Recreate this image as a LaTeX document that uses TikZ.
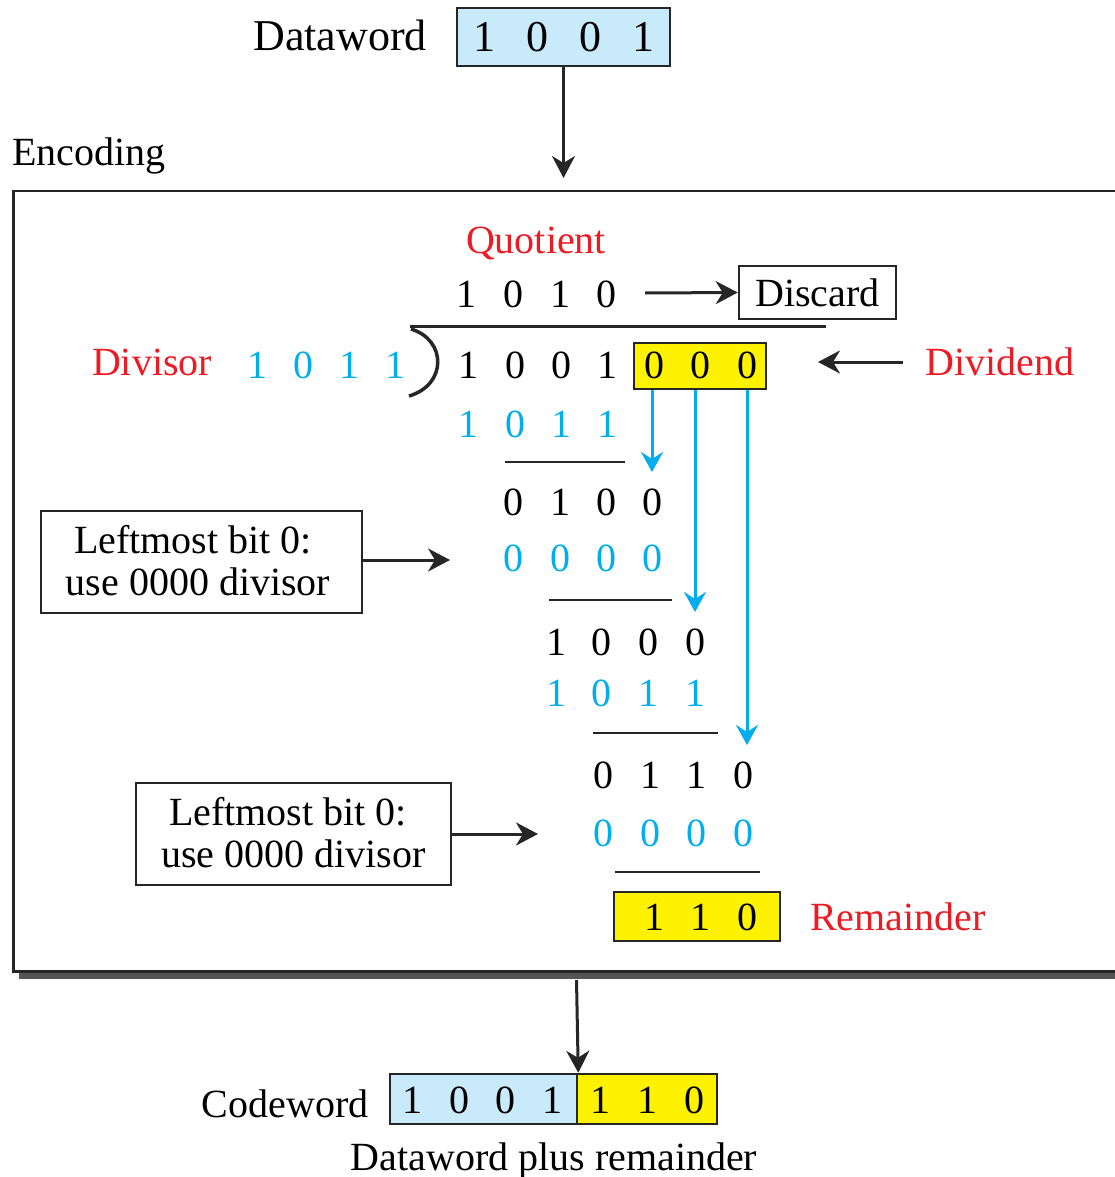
\documentclass[tikz,border=0pt]{standalone}
\usepackage{fontspec}
\setmainfont{Liberation Serif}
\usetikzlibrary{arrows.meta}
\definecolor{cyanB}{RGB}{0,174,239}
\definecolor{redT}{RGB}{237,28,36}
\definecolor{yel}{RGB}{255,242,0}
\definecolor{lblue}{RGB}{200,234,250}
\definecolor{shad}{RGB}{85,85,85}
\begin{document}
\begin{tikzpicture}[x=1pt,y=-1pt,
  txt/.style={inner sep=0pt, font=\fontsize{40}{42}\selectfont, text height=27pt, text depth=0pt},
  big/.style={inner sep=0pt, font=\fontsize{44}{46}\selectfont, text height=30pt, text depth=0pt},
  dig/.style={txt},
  bdig/.style={txt, text=cyanB},
  redlab/.style={txt, text=redT},
  box/.style={draw=black!85, line width=2.5pt, inner sep=0pt},
  arr/.style={-{Stealth[length=22pt,width=23pt,inset=7pt]}, line width=3pt, draw=black!85},
  barr/.style={-{Stealth[length=20pt,width=22pt,inset=7pt]}, line width=3pt, draw=cyanB},
  rule/.style={line width=2.5pt, draw=black!85}]
\useasboundingbox (0,0) rectangle (1114,1177);

% top dataword
\node[big] (dwl) at (340,36) {Dataword};
\node[box, fill=lblue, minimum width=213pt, minimum height=58pt] (dw) at (563.5,37) {};
\foreach \x/\d [count=\i] in {484/1,537/0,590/0,643/1}
  \node[big] (t\i) at (\x,37) {\d};
\coordinate (encin) at (563.5,178);
\draw[arr] (dw.south) -- (encin);

\node[txt, anchor=west] (enclab) at (12,152) {Encoding};

% main box with shadow
\fill[shad] (19,198) rectangle (1150,979);
\node[box, fill=white, anchor=north west, minimum width=1140pt, minimum height=780pt] (enc) at (12,190) {};

% quotient
\node[redlab] (quot) at (536,240) {Quotient};
\foreach \x/\d [count=\i] in {466/1,513/0,560/1,606/0}
  \node[dig] (q\i) at (\x,294) {\d};
\node[box, txt, minimum width=157pt, minimum height=53pt] (disc) at (817.5,292.5) {Discard};
\coordinate (qout) at (645,293);
\draw[arr] (qout) -- (disc.west);

% division bracket
\draw[line width=3pt, black!85] (410,326) -- (826,326);
\draw[line width=3.5pt, black!85] (411,329) .. controls (447,340) and (447,385) .. (409,396);

% divisor and dividend
\node[redlab] (divisor) at (152,362) {Divisor};
\foreach \x/\d [count=\i] in {257/1,303/0,349/1,395/1}
  \node[bdig] (v\i) at (\x,365) {\d};
\node[box, fill=yel, minimum width=132pt, minimum height=46pt] (yb) at (700,366) {};
\foreach \x/\d [count=\i] in {468/1,515/0,561/0,607/1,654/0,700/0,747/0}
  \node[dig] (dd\i) at (\x,365) {\d};
\node[redlab, anchor=west] (dividend) at (925,362) {Dividend};
\coordinate (dvdin) at (903,362);
\coordinate (dvdout) at (818,362);
\draw[arr] (dvdin) -- (dvdout);

% rows
\foreach \x/\d [count=\i] in {468/1,515/0,561/1,607/1}
  \node[bdig] (ra\i) at (\x,424) {\d};
\draw[rule] (505,462) -- (625,462);
\foreach \x/\d [count=\i] in {513/0,560/1,606/0,652/0}
  \node[dig] (rb\i) at (\x,502) {\d};
\foreach \x/\d [count=\i] in {513/0,560/0,606/0,652/0}
  \node[bdig] (rc\i) at (\x,558) {\d};
\draw[rule] (549,600) -- (672,600);
\foreach \x/\d [count=\i] in {556/1,601/0,648/0,695/0}
  \node[dig] (rd\i) at (\x,642) {\d};
\foreach \x/\d [count=\i] in {556/1,601/0,648/1,695/1}
  \node[bdig] (re\i) at (\x,693) {\d};
\draw[rule] (593,733) -- (718,733);
\foreach \x/\d [count=\i] in {603/0,650/1,696/1,743/0}
  \node[dig] (rf\i) at (\x,775) {\d};
\foreach \x/\d [count=\i] in {603/0,650/0,696/0,743/0}
  \node[bdig] (rg\i) at (\x,833) {\d};
\draw[rule] (615,872) -- (760,872);

% remainder
\node[box, fill=yel, minimum width=166pt, minimum height=49pt] (remb) at (697,916.5) {};
\foreach \x/\d [count=\i] in {654/1,700/1,747/0}
  \node[dig] (rm\i) at (\x,917) {\d};
\node[redlab, anchor=west] (remlab) at (810,917) {Remainder};

% blue drop arrows
\coordinate (b1s) at (652,390); \coordinate (b1e) at (652,472);
\coordinate (b2s) at (695,390); \coordinate (b2e) at (695,612);
\coordinate (b3s) at (747,390); \coordinate (b3e) at (747,745);
\draw[barr] (b1s) -- (b1e);
\draw[barr] (b2s) -- (b2e);
\draw[barr] (b3s) -- (b3e);

% left boxes
\node[box, minimum width=321pt, minimum height=102pt] (lb1) at (201.5,562) {};
\node[txt] (lb1a) at (193,540) {Leftmost bit 0:};
\node[txt] (lb1b) at (198,582) {use 0000 divisor};
\coordinate (lb1e) at (450,560);
\draw[arr] (lb1.east |- lb1e) -- (lb1e);

\node[box, minimum width=315pt, minimum height=102pt] (lb2) at (293.5,834) {};
\node[txt] (lb2a) at (288,812) {Leftmost bit 0:};
\node[txt] (lb2b) at (293.5,854) {use 0000 divisor};
\coordinate (lb2e) at (538,834);
\draw[arr] (lb2.east) -- (lb2e);

% codeword
\coordinate (cwin) at (576.5,980);
\node[box, fill=lblue, minimum width=187pt, minimum height=50pt] (cwa) at (483.5,1099) {};
\node[box, fill=yel, minimum width=140pt, minimum height=50pt] (cwb) at (647,1099) {};
\foreach \x/\d [count=\i] in {412/1,459/0,505/0,552/1,600/1,647/1,694/0}
  \node[dig] (c\i) at (\x,1100) {\d};
\draw[arr] (cwin) -- (cwa.north east);
\node[txt] (cwlab) at (285,1104) {Codeword};
\node[txt] (cwsub) at (554,1157) {Dataword plus remainder};
\end{tikzpicture}
\end{document}
